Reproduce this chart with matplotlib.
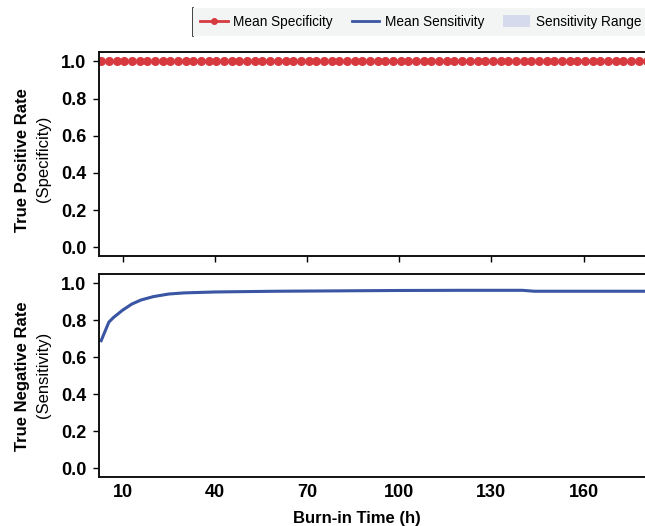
import numpy as np
import matplotlib
matplotlib.use("Agg")
import matplotlib.pyplot as plt
from matplotlib.lines import Line2D
from matplotlib.patches import Patch

plt.rcParams['font.family'] = ['Liberation Sans', 'DejaVu Sans']

# burn-in hours sampled for specificity, all at 1.0
spec_hours = np.arange(3, 182, 2.5)
spec_mean = [1.0] * len(spec_hours)

# mean sensitivity
sens_hours = [3, 5.5, 7, 10, 13, 16, 20, 25, 30, 40, 60, 80, 100, 120, 140, 144, 160, 181]
sens_mean = [0.69, 0.79, 0.815, 0.855, 0.888, 0.91, 0.928, 0.942, 0.948, 0.953,
             0.957, 0.959, 0.961, 0.962, 0.962, 0.957, 0.957, 0.957]
sens_low = [v - 0.004 for v in sens_mean]
sens_high = [v + 0.004 for v in sens_mean]

x_ticks = [10, 40, 70, 100, 130, 160]
y_ticks = [0.0, 0.2, 0.4, 0.6, 0.8, 1.0]

red = '#d63a3f'
blue = '#3a55a3'
band = '#d5dbec'

fig = plt.figure(figsize=(6.45, 5.26), dpi=100)
left = 99 / 645
ax1 = fig.add_axes([left, 1 - 256 / 526, 1 - left, (256 - 52) / 526])
ax2 = fig.add_axes([left, 1 - 477 / 526, 1 - left, (477 - 274) / 526])

ax1.plot(spec_hours, spec_mean, color=red, lw=2, marker='o', ms=5.5)
ax2.fill_between(sens_hours, sens_low, sens_high, color=band, lw=0)
ax2.plot(sens_hours, sens_mean, color=blue, lw=2.2)

for ax in (ax1, ax2):
    ax.set_xlim(2.3, 180)
    ax.set_ylim(-0.046, 1.05)
    ax.set_yticks(y_ticks)
    ax.set_yticklabels([f'{v:.1f}' for v in y_ticks])
    ax.set_xticks(x_ticks)
    ax.spines['right'].set_visible(False)
    for s in ('left', 'top', 'bottom'):
        ax.spines[s].set_linewidth(1.4)
        ax.spines[s].set_color('#111111')
    ax.tick_params(axis='y', length=4, width=1, pad=5, labelsize=13)
    for lab in ax.get_yticklabels():
        lab.set_fontweight('bold')

ax1.tick_params(axis='x', length=4, width=1, labelbottom=False)
ax2.tick_params(axis='x', length=0, pad=5, labelsize=13)
ax2.set_xticklabels([str(v) for v in x_ticks])
for lab in ax2.get_xticklabels():
    lab.set_fontweight('bold')

# two-line y labels: bold title, regular subtitle
fig.text(23 / 645, 1 - 160 / 526, 'True Positive Rate', rotation=90,
         ha='center', va='center', fontsize=12, fontweight='bold')
fig.text(43 / 645, 1 - 159 / 526, '(Specificity)', rotation=90,
         ha='center', va='center', fontsize=12)
fig.text(23 / 645, 1 - 376 / 526, 'True Negative Rate', rotation=90,
         ha='center', va='center', fontsize=12, fontweight='bold')
fig.text(43 / 645, 1 - 375 / 526, '(Sensitivity)', rotation=90,
         ha='center', va='center', fontsize=12)
fig.text(357 / 645, 1 - 518 / 526, 'Burn-in Time (h)', ha='center', va='center',
         fontsize=12, fontweight='bold')

handles = [
    Line2D([0], [0], color=red, lw=2, marker='o', ms=4),
    Line2D([0], [0], color=blue, lw=2),
    Patch(facecolor=band, edgecolor='none'),
]
labels = ['Mean Specificity', 'Mean Sensitivity', 'Sensitivity Range']
leg = fig.legend(handles, labels, loc='center left', bbox_to_anchor=(193 / 645, 1 - 22 / 526),
                 ncol=3, fontsize=9.8, frameon=True, fancybox=False, framealpha=1,
                 facecolor='#f3f5f5', edgecolor='none', handlelength=2.0,
                 handletextpad=0.4, columnspacing=1.4, borderpad=0.55, borderaxespad=0,
                 handleheight=1.0)
fig.add_artist(Line2D([193 / 645, 193 / 645], [1 - 8 / 526, 1 - 36 / 526],
                      color='#222222', lw=1.2))

fig.savefig('out.png', dpi=100)
